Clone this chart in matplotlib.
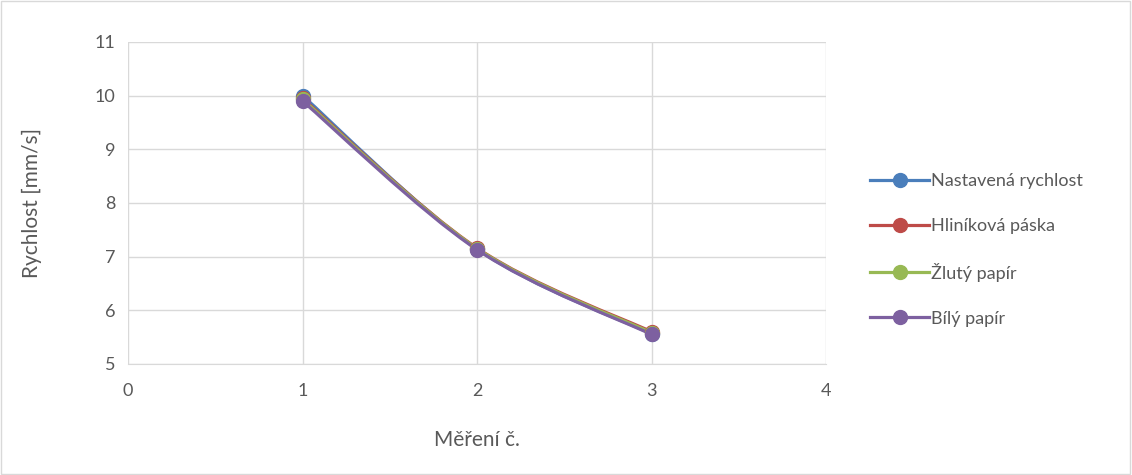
import matplotlib.pyplot as plt
from matplotlib.path import Path
import matplotlib.patches as mpatches
from matplotlib.lines import Line2D

plt.rcParams['font.family'] = ['Lato', 'DejaVu Sans']

# ── Data ─────────────────────────────────────────────────────────────────────
mereni = [1, 2, 3]
nastavena = [10.00, 7.14, 5.56]
hlinikova = [9.95, 7.16, 5.60]
zluty = [9.93, 7.15, 5.58]
bily = [9.90, 7.13, 5.55]

series_names = ["Nastavená rychlost", "Hliníková páska", "Žlutý papír", "Bílý papír"]
series_vals = [nastavena, hlinikova, zluty, bily]
colors = ["#4a7ebb", "#be4b48", "#98b954", "#7d60a0"]

x_ticks = [0, 1, 2, 3, 4]
y_ticks = [5, 6, 7, 8, 9, 10, 11]

TXT = "#595959"


def smooth_path(xs, ys, t=1 / 6):
    # Excel-like smoothed line: Catmull-Rom converted to cubic Bezier segments
    n = len(xs)
    verts = [(xs[0], ys[0])]
    codes = [Path.MOVETO]
    for i in range(n - 1):
        x0, y0 = (xs[i - 1], ys[i - 1]) if i > 0 else (xs[i], ys[i])
        x1, y1 = xs[i], ys[i]
        x2, y2 = xs[i + 1], ys[i + 1]
        x3, y3 = (xs[i + 2], ys[i + 2]) if i + 2 < n else (x2, y2)
        c1 = (x1 + (x2 - x0) * t, y1 + (y2 - y0) * t)
        c2 = (x2 - (x3 - x1) * t, y2 - (y3 - y1) * t)
        verts += [c1, c2, (x2, y2)]
        codes += [Path.CURVE4] * 3
    return Path(verts, codes)


fig = plt.figure(figsize=(11.32, 4.75), dpi=100)
fig.patch.set_facecolor("white")
ax = fig.add_axes([0.1131, 0.2337, 0.6166, 0.6779])

for name, vals, c in zip(series_names, series_vals, colors):
    ax.add_patch(mpatches.PathPatch(smooth_path(mereni, vals), facecolor="none",
                                    edgecolor=c, lw=2.3, zorder=3, capstyle="round"))
    ax.plot(mereni, vals, linestyle="none", marker="o", markersize=10,
            color=c, zorder=4)

ax.set_xlim(0, 4)
ax.set_ylim(5, 11)
ax.set_xticks(x_ticks)
ax.set_yticks(y_ticks)
ax.grid(True, color="#d9d9d9", lw=1)
ax.set_axisbelow(True)
for s in ["top", "right", "left"]:
    ax.spines[s].set_visible(False)
ax.spines["bottom"].set_color("#d9d9d9")
ax.tick_params(length=0, labelsize=13, colors=TXT)
ax.tick_params(axis="x", pad=14)
ax.tick_params(axis="y", pad=9)
ax.set_xlabel("Měření č.", fontsize=15, color=TXT, labelpad=22)
ax.set_ylabel("Rychlost [mm/s]", fontsize=15, color=TXT, labelpad=38)

handles = [Line2D([], [], color=c, lw=2.3, marker="o", markersize=10)
           for c in colors]
leg = fig.legend(handles, series_names, loc="center left",
                 bbox_to_anchor=(0.754, 0.474), frameon=False, fontsize=13,
                 handlelength=3.3, handletextpad=0.1, labelspacing=1.6,
                 labelcolor=TXT)

fig.add_artist(mpatches.Rectangle((0.001, 0.002), 0.997, 0.995,
                                  transform=fig.transFigure, fill=False,
                                  edgecolor="#d9d9d9", lw=1))

fig.savefig("out.png", dpi=100, facecolor="white")
